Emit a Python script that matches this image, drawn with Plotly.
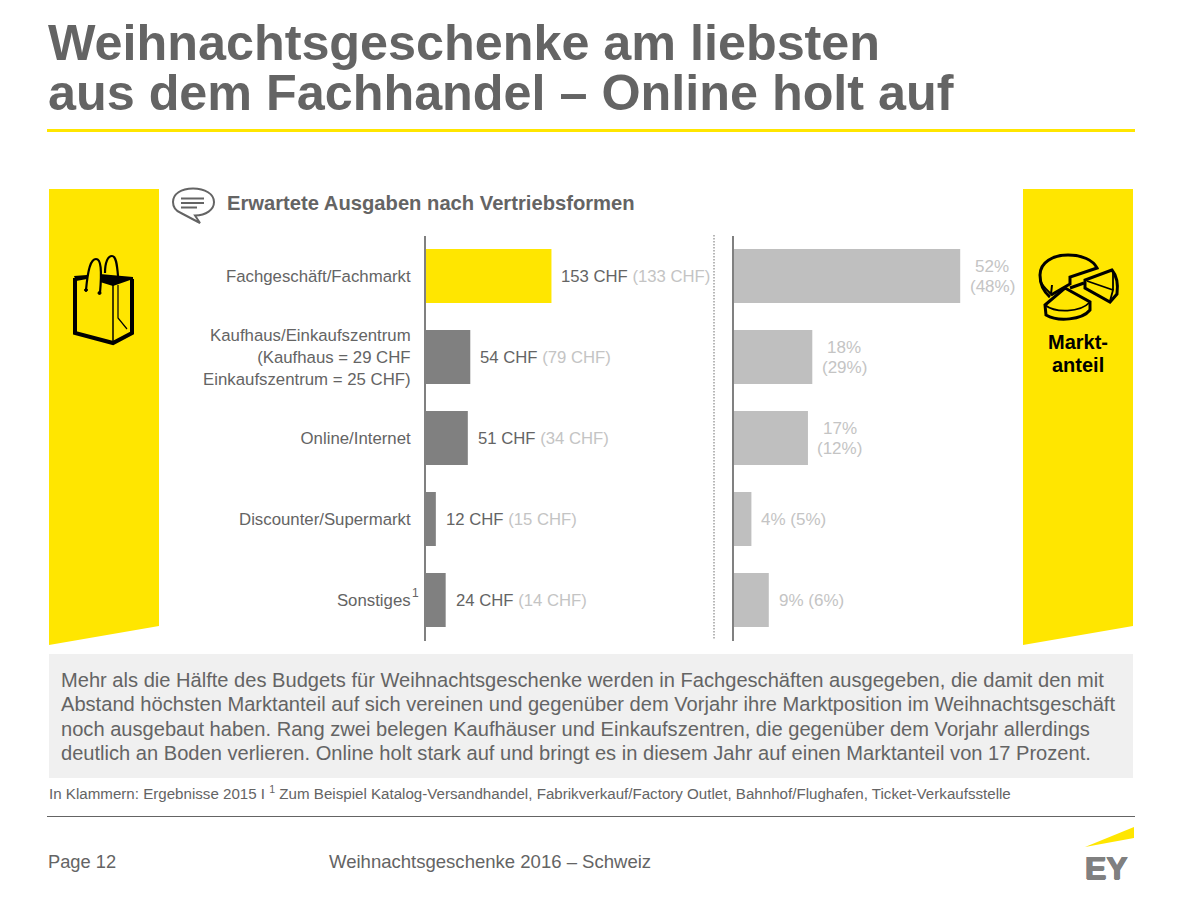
import re
import plotly.graph_objects as go

W, H = 1202, 902
YELLOW = "#FFE600"
TXT = "#646464"
LIGHT = "#c4c4c4"
FONT = "Liberation Sans, Arial, sans-serif"

# Daten
categories = [
    "Fachgeschäft/Fachmarkt",
    "Kaufhaus/Einkaufszentrum<br>(Kaufhaus = 29 CHF<br>Einkaufszentrum = 25 CHF)",
    "Online/Internet",
    "Discounter/Supermarkt",
    "Sonstiges",
]
chf_2016 = [153, 54, 51, 12, 24]
chf_2015 = [133, 79, 34, 15, 14]
share_2016 = [52, 18, 17, 4, 9]
share_2015 = [48, 29, 12, 5, 6]
share_bar = [52, 18, 17, 4, 8]  # letzter Balken ist im Original kürzer als sein Label 9%
bar_colors = [YELLOW, "#808080", "#808080", "#808080", "#808080"]

body_lines = [
    "Mehr als die Hälfte des Budgets für Weihnachtsgeschenke werden in Fachgeschäften ausgegeben, die damit den mit",
    "Abstand höchsten Marktanteil auf sich vereinen und gegenüber dem Vorjahr ihre Marktposition im Weihnachtsgeschäft",
    "noch ausgebaut haben. Rang zwei belegen Kaufhäuser und Einkaufszentren, die gegenüber dem Vorjahr allerdings",
    "deutlich an Boden verlieren. Online holt stark auf und bringt es in diesem Jahr auf einen Marktanteil von 17 Prozent.",
]


def fx(x):
    return x / W


def fy(y):
    return 1 - y / H


# Pixelpfad in Papierkoordinaten umrechnen
def path(d):
    parts = re.split(r"\s+", d.strip())
    out, i = [], 0
    for p in parts:
        if p.isalpha():
            out.append(p)
        else:
            out.append(f"{fx(float(p)):.5f}" if i % 2 == 0 else f"{fy(float(p)):.5f}")
            i += 1
    return " ".join(out)


def shape(d, fill=None, line=None, width=0):
    return dict(type="path", path=path(d), xref="paper", yref="paper", fillcolor=fill or "rgba(0,0,0,0)",
                line=dict(color=line or "rgba(0,0,0,0)", width=width), layer="above")


def rect(x0, y0, x1, y1, color):
    return dict(type="rect", xref="paper", yref="paper", x0=fx(x0), x1=fx(x1), y0=fy(y0), y1=fy(y1),
                fillcolor=color, line=dict(width=0), layer="below")


def hline(x0, x1, y, color, width):
    return dict(type="line", xref="paper", yref="paper", x0=fx(x0), x1=fx(x1), y0=fy(y), y1=fy(y),
                line=dict(color=color, width=width))


def label(x, y, text, size, color=TXT, bold=False, anchor="left", align="left"):
    if bold:
        text = f"<b>{text}</b>"
    return dict(xref="paper", yref="paper", x=fx(x), y=fy(y), text=text, showarrow=False, xanchor=anchor,
                yanchor="middle", align=align, font=dict(size=size, color=color, family=FONT),
                borderpad=0, borderwidth=0)


def share_label(cat, value, text, xanchor, xshift, yshift=0):
    return dict(xref="x2", yref="y2", x=value, y=cat, xanchor=xanchor, xshift=xshift, yshift=yshift,
                showarrow=False, borderpad=0, text=text, font=dict(size=17, color=LIGHT, family=FONT))


fig = go.Figure()

fig.add_trace(go.Bar(x=chf_2016, y=categories, orientation="h", marker=dict(color=bar_colors, line=dict(width=0)),
                     xaxis="x", yaxis="y", showlegend=False))
fig.add_trace(go.Bar(x=share_bar, y=categories, orientation="h", marker=dict(color="#bfbfbf", line=dict(width=0)),
                     xaxis="x2", yaxis="y2", showlegend=False))

annotations = []
for cat, a, b in zip(categories, chf_2016, chf_2015):
    annotations.append(dict(xref="x", yref="y", x=a, y=cat, xshift=9, xanchor="left", showarrow=False, borderpad=0,
                            text=f"{a} CHF <span style='color:{LIGHT}'>({b} CHF)</span>",
                            font=dict(size=16.7, color=TXT, family=FONT)))
for cat, bar, a, b in zip(categories, share_bar, share_2016, share_2015):
    if a >= 10:
        # zweizeilig, engerer Zeilenabstand als plotly ihn setzt
        annotations.append(share_label(cat, bar, f"{a}%", "center", 32, 9.5))
        annotations.append(share_label(cat, bar, f"({b}%)", "center", 32, -10.5))
    else:
        annotations.append(share_label(cat, bar, f"{a}% ({b}%)", "left", 9))

annotations += [
    label(48, 42.5, "Weihnachtsgeschenke am liebsten", 50.3, bold=True),
    label(48, 92.5, "aus dem Fachhandel – Online holt auf", 50.3, bold=True),
    label(227, 203, "Erwartete Ausgaben nach Vertriebsformen", 20.2, bold=True),
    label(1078, 342, "Markt-", 20, color="#000000", bold=True, anchor="center", align="center"),
    label(1078, 365, "anteil", 20, color="#000000", bold=True, anchor="center", align="center"),
    label(412, 593, "1", 12),
    label(49, 792, "In Klammern: Ergebnisse 2015 I <sup>1</sup> Zum Beispiel Katalog-Versandhandel, "
                   "Fabrikverkauf/Factory Outlet, Bahnhof/Flughafen, Ticket-Verkaufsstelle", 15.13),
    label(48, 861, "Page 12", 18.3),
    label(329, 861, "Weihnachtsgeschenke 2016 – Schweiz", 18.55),
]
ey = label(1085, 868, "EY", 32, color="#808080", bold=True)
ey["font"]["shadow"] = "0.7px 0 0 #808080, -0.7px 0 0 #808080, 0 0.5px 0 #808080, 0 -0.5px 0 #808080"
annotations.append(ey)
for i, line in enumerate(body_lines):
    annotations.append(label(61, 679.5 + i * 24.5, line, 20.1))

shapes = [
    rect(49, 654, 1133, 778, "#f0f0f0"),
    shape("M 49 189 L 159 189 L 159 626 L 49 645 Z", fill=YELLOW),
    shape("M 1023 189 L 1133 189 L 1133 626 L 1023 645 Z", fill=YELLOW),
    hline(47, 1135, 130.5, YELLOW, 3),
    hline(47, 1135, 816.5, "#646464", 1),
    dict(type="line", xref="paper", yref="paper", x0=fx(714), x1=fx(714), y0=fy(235), y1=fy(640),
         line=dict(color="#a0a0a0", width=1.5, dash="1.5px,1.5px")),
    # EY Logo
    shape("M 1085 847 L 1134 827 L 1134 838 Z", fill=YELLOW),
    # Sprechblase
    shape("M 193 188.5 C 181 188.5 173 194 173 202 C 173 207 176 211 181 213 L 200 223 L 195 215.5 "
          "C 206 215 214 210 214 202 C 214 194 205 188.5 193 188.5 Z", line=TXT, width=2),
    shape("M 181 198.5 L 204 198.5 M 181 203 L 204 203 M 181 207.5 L 197 207.5", line=TXT, width=1.8),
    # Tasche
    shape("M 75 278 L 75 333 L 113 343 L 132 333 L 132 279", line="#000000", width=4),
    shape("M 74 276 L 87 275 L 87 279 L 76 281 Z M 100 274 L 133 277 L 133 279 L 113 286 L 100 282 Z", fill="#000000"),
    shape("M 113 285 L 113 343", line="#000000", width=1.5),
    shape("M 118 285 L 118 318 L 127 329", line="#000000", width=1.2),
    shape("M 86 290 C 88 268 91 259 96 259 C 101 259 102 270 100 293", line="#000000", width=2.2),
    shape("M 105 273 C 105 262 108 256 112 256 C 116 256 117 264 118 276", line="#000000", width=2.2),
    shape("M 84.5 290 C 84.5 288 87.5 288 87.5 290 C 87.5 292 84.5 292 84.5 290 Z "
          "M 98 293 C 98 291 101 291 101 293 C 101 295 98 295 98 293 Z", fill="#000000", line="#000000", width=1),
    # Kuchendiagramm
    shape("M 1050 297 C 1043 291 1040 283 1040 275 C 1040 262 1053 255 1068 255 C 1082 255 1093 260 1097 268 "
          "L 1070 277 L 1070 284 L 1051 295", line="#000000", width=3),
    shape("M 1040 280 C 1042 286 1047 290 1051 294 L 1052 285", line="#000000", width=2),
    shape("M 1070 288 L 1084 283", line="#000000", width=3),
    shape("M 1112 270 L 1085 280 L 1085 288 L 1110 302 L 1117 294 C 1118 286 1117 276 1112 270 Z", line="#000000", width=3),
    shape("M 1087 281 L 1113 290 L 1110 301 M 1113 290 L 1113 272", line="#000000", width=1.8),
    shape("M 1045 305 L 1065 288 L 1090 302 L 1090 310 C 1082 320 1058 322 1046 315 Z", line="#000000", width=3),
    shape("M 1045 305 C 1055 313 1080 313 1090 302", line="#000000", width=1.8),
]

fig.update_layout(
    width=W,
    height=H,
    margin=dict(l=0, r=0, t=0, b=0),
    paper_bgcolor="white",
    plot_bgcolor="rgba(0,0,0,0)",
    bargap=1 / 3,
    showlegend=False,
    font=dict(family=FONT, size=16, color=TXT),
    xaxis=dict(domain=[fx(426), fx(712)], range=[0, 286 / 0.82], visible=False, fixedrange=True),
    xaxis2=dict(domain=[fx(734), fx(1020)], range=[0, 286 / 4.35], visible=False, fixedrange=True),
    yaxis=dict(domain=[fy(640.5), fy(235.5)], anchor="x", type="category", autorange="reversed", showline=True,
               linecolor="#808080", linewidth=2, showgrid=False, ticks="", ticklabelstandoff=10,
               tickfont=dict(size=16.8, color=TXT, family=FONT), fixedrange=True),
    yaxis2=dict(domain=[fy(640.5), fy(235.5)], anchor="x2", type="category", autorange="reversed", showline=True,
                linecolor="#808080", linewidth=2, showgrid=False, ticks="", showticklabels=False, fixedrange=True),
    shapes=shapes,
    annotations=annotations,
)

fig.write_html("out.html", config=dict(displayModeBar=False), post_script="document.body.style.margin='0';")
